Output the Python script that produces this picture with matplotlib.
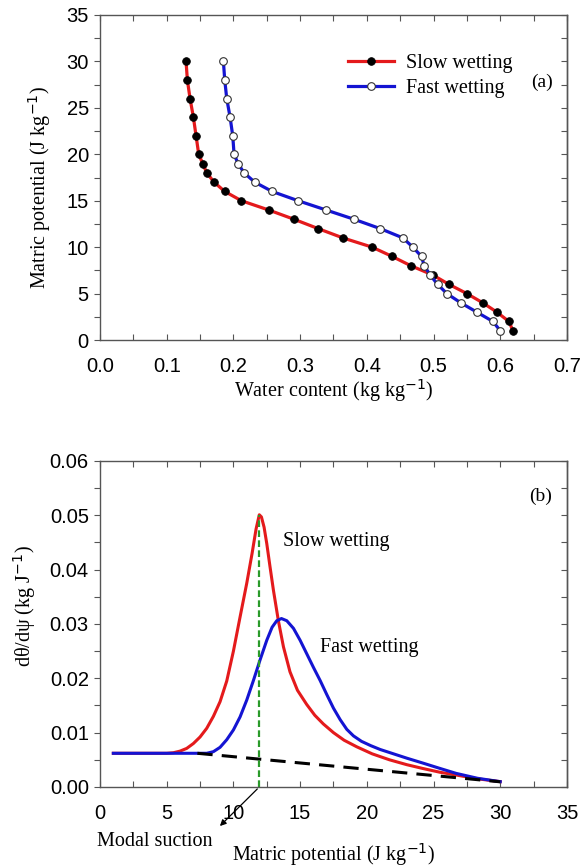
import matplotlib
matplotlib.use("Agg")
import matplotlib.pyplot as plt
from matplotlib.ticker import MultipleLocator, FormatStrFormatter

# ---------------- data ----------------
# Panel (a): water retention (matric potential vs water content)
psi_a = [30, 28, 26, 24, 22, 20, 19, 18, 17, 16, 15, 14, 13, 12, 11, 10, 9, 8, 7, 6, 5, 4, 3, 2, 1]
theta_slow = [0.129, 0.131, 0.135, 0.140, 0.144, 0.148, 0.154, 0.160, 0.171, 0.187,
              0.212, 0.253, 0.291, 0.327, 0.364, 0.408, 0.438, 0.466, 0.499, 0.523,
              0.550, 0.574, 0.595, 0.613, 0.619]
theta_fast = [0.185, 0.187, 0.190, 0.195, 0.199, 0.201, 0.207, 0.216, 0.232, 0.258,
              0.297, 0.339, 0.381, 0.420, 0.454, 0.469, 0.482, 0.486, 0.495, 0.506,
              0.520, 0.541, 0.565, 0.589, 0.600]

# Panel (b): derivative curves d(theta)/d(psi)
psi_slow_b = [1.0, 5.0, 5.5, 6.0, 6.5, 7.0, 7.5, 8.0, 8.5, 9.0, 9.5, 10.0, 10.5, 11.0,
              11.4, 11.7, 11.94, 12.1, 12.3, 12.5, 12.74, 13.0, 13.37, 13.75, 14.24,
              14.8, 15.49, 16.1, 16.74, 17.5, 18.3, 19.24, 20.4, 21.7, 23.0, 24.2,
              25.5, 26.7, 28.3, 30.0]
d_slow = [0.0062, 0.0062, 0.0063, 0.0066, 0.0071, 0.0080, 0.0092, 0.0108, 0.0130, 0.0157,
          0.0195, 0.0250, 0.0313, 0.0375, 0.0430, 0.0475, 0.0501, 0.0497, 0.0478, 0.0448,
          0.0406, 0.0362, 0.0306, 0.0258, 0.0212, 0.0178, 0.0152, 0.0132, 0.0116, 0.0100,
          0.0086, 0.0074, 0.0061, 0.0050, 0.0041, 0.0034, 0.0027, 0.0022, 0.0015, 0.00098]
psi_fast_b = [1.0, 8.0, 8.5, 9.0, 9.5, 10.0, 10.5, 11.0, 11.5, 12.0, 12.5, 12.9, 13.25,
              13.6, 14.0, 14.5, 15.0, 15.5, 16.0, 16.5, 17.0, 17.5, 18.0, 18.5, 19.0,
              19.6, 20.3, 21.0, 22.0, 23.0, 24.2, 25.5, 26.7, 28.3, 30.0]
d_fast = [0.0062, 0.0062, 0.0065, 0.0073, 0.0087, 0.0105, 0.0129, 0.0160, 0.0196, 0.0234,
          0.0270, 0.0294, 0.0306, 0.0310, 0.0306, 0.0292, 0.0270, 0.0245, 0.0220, 0.0196,
          0.0170, 0.0145, 0.0124, 0.0106, 0.0094, 0.0084, 0.0076, 0.0069, 0.0061, 0.0053,
          0.0044, 0.0034, 0.0025, 0.0016, 0.00098]
base_x = [7.3, 30.0]
base_y = [0.0062, 0.00095]
modal_psi = 11.94
modal_peak = 0.0501

RED = "#e41a1c"
BLUE = "#1414d2"
GREEN = "#2a9a2a"
FRAME = "#555555"
SERIF = ["Liberation Serif", "DejaVu Serif"]
SANS = ["Liberation Sans", "DejaVu Sans"]

plt.rcParams["font.family"] = SANS
fig = plt.figure(figsize=(5.83, 8.67), dpi=100)
ax1 = fig.add_axes([0.1715, 0.6078, 0.801, 0.3749])
ax2 = fig.add_axes([0.1715, 0.0923, 0.801, 0.3760])


def style(ax, ymaj, ymin):
    for s in ax.spines.values():
        s.set_color(FRAME)
        s.set_linewidth(1.0)
    ax.tick_params(axis="both", which="both", colors=FRAME, labelcolor="black",
                   labelsize=14.5, width=0.8)
    ax.tick_params(axis="x", which="both", direction="in", top=True, length=4, pad=12)
    ax.tick_params(axis="y", which="both", direction="out", length=4, pad=4, right=False)
    ax.yaxis.set_major_locator(MultipleLocator(ymaj))
    ax.yaxis.set_minor_locator(MultipleLocator(ymin))
    sec = ax.secondary_yaxis("right")
    sec.yaxis.set_major_locator(MultipleLocator(ymaj))
    sec.yaxis.set_minor_locator(MultipleLocator(ymin))
    sec.tick_params(axis="y", which="both", direction="in", length=4, width=0.8,
                    colors=FRAME, labelright=False)
    sec.spines["right"].set_color(FRAME)
    sec.spines["right"].set_linewidth(1.0)


# ---------------- panel (a) ----------------
ax1.plot(theta_slow, psi_a, "-o", color=RED, lw=2.3, ms=5.5, mfc="black", mec="black",
         mew=0.6, label="Slow wetting")
ax1.plot(theta_fast, psi_a, "-o", color=BLUE, lw=2.3, ms=5.5, mfc="white", mec="#333333",
         mew=0.8, label="Fast wetting")
ax1.set_xlim(0, 0.7)
ax1.set_ylim(0, 35)
style(ax1, 5, 2.5)
ax1.xaxis.set_major_locator(MultipleLocator(0.1))
ax1.xaxis.set_minor_locator(MultipleLocator(0.05))
ax1.xaxis.set_major_formatter(FormatStrFormatter("%.1f"))
ax1.set_xlabel("Water content (kg kg$^{-1}$)", family=SERIF, fontsize=14.5, labelpad=1)
ax1.set_ylabel("Matric potential (J kg$^{-1}$)", family=SERIF, fontsize=14.5)
ax1.yaxis.set_label_coords(-0.10, 0.47)
ax1.legend(loc="upper left", bbox_to_anchor=(0.513, 0.905), frameon=False,
           prop={"family": SERIF, "size": 14.5}, handlelength=2.3,
           handletextpad=0.6, labelspacing=0.3, borderaxespad=0)
ax1.text(0.6625, 27.8, "(a)", family=SERIF, fontsize=14, ha="center", va="center")

# ---------------- panel (b) ----------------
ax2.plot(psi_slow_b, d_slow, color=RED, lw=2.2)
ax2.plot(psi_fast_b, d_fast, color=BLUE, lw=2.2)
ax2.plot(base_x, base_y, color="black", lw=2.2, dashes=(5, 3))
ax2.plot([modal_psi, modal_psi], [0, modal_peak], color=GREEN, lw=1.6, dashes=(3, 1.5))
ax2.set_xlim(0, 35)
ax2.set_ylim(0, 0.06)
style(ax2, 0.01, 0.005)
ax2.xaxis.set_major_locator(MultipleLocator(5))
ax2.xaxis.set_minor_locator(MultipleLocator(2.5))
ax2.yaxis.set_major_formatter(FormatStrFormatter("%.2f"))
ax2.set_xlabel("Matric potential (J kg$^{-1}$)", family=SERIF, fontsize=14.5, labelpad=13)
ax2.set_ylabel("d\u03b8/d\u03c8 (kg J$^{-1}$)", family=SERIF, fontsize=14.5)
ax2.yaxis.set_label_coords(-0.133, 0.555)
ax2.text(33.0, 0.0534, "(b)", family=SERIF, fontsize=14, ha="center", va="center")
ax2.text(13.7, 0.0451, "Slow wetting", family=SERIF, fontsize=14.5, ha="left", va="center")
ax2.text(16.5, 0.0256, "Fast wetting", family=SERIF, fontsize=14.5, ha="left", va="center")
ax2.annotate("", xy=(8.84, -0.00755), xytext=(modal_psi, 0),
             arrowprops=dict(arrowstyle="-|>", color="black", lw=0.9, mutation_scale=9),
             annotation_clip=False)
ax2.text(-0.2, -0.0101, "Modal suction", family=SERIF, fontsize=14.5, ha="left",
         va="center", clip_on=False)

fig.savefig("out.png", dpi=100)
